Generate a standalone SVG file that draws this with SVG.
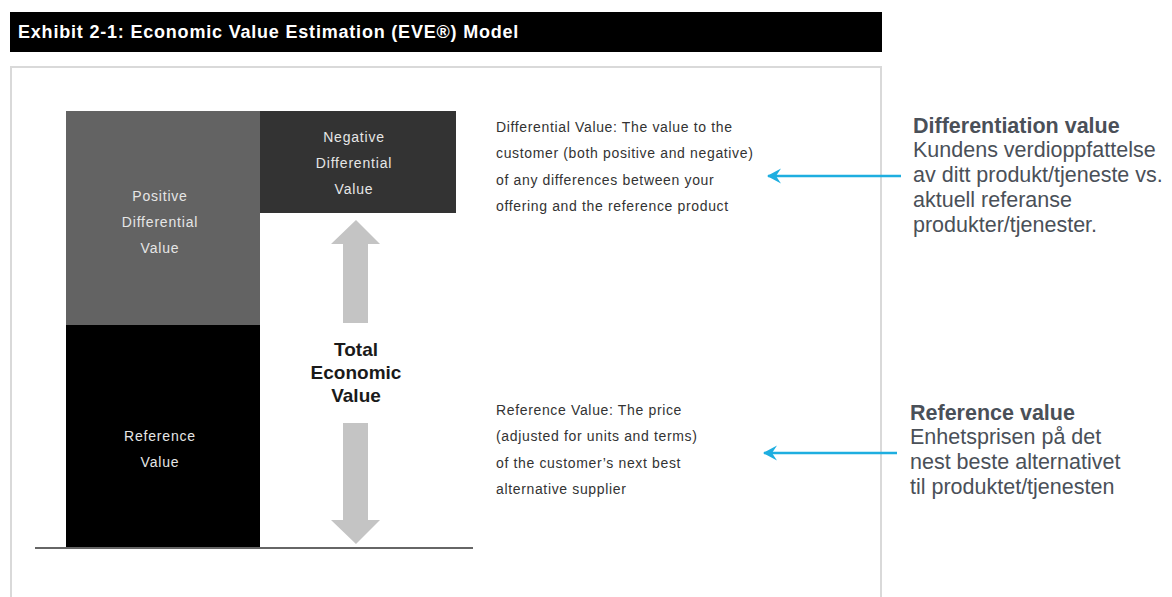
<svg xmlns="http://www.w3.org/2000/svg" width="1172" height="597" viewBox="0 0 1172 597">
  <defs>
    <style>
      .title { font-family: "Liberation Sans", Arial, sans-serif; font-weight: bold; font-size: 18px; letter-spacing: 0.8px; fill: #ffffff; }
      .box-label { font-family: "Liberation Sans", Arial, sans-serif; font-size: 14px; fill: #e6e6e6; text-anchor: middle; letter-spacing: 0.8px; }
      .tev { font-family: "Liberation Sans", Arial, sans-serif; font-weight: bold; font-size: 19px; fill: #1a1a1a; text-anchor: middle; }
      .desc { font-family: "Liberation Sans", Arial, sans-serif; font-size: 14px; fill: #333333; letter-spacing: 0.65px; }
      .note { font-family: "Liberation Sans", Arial, sans-serif; font-size: 21.5px; fill: #4a5058; }
      .note-head { font-weight: bold; }
      .callout { stroke: #1eaee0; stroke-width: 2.5; fill: none; }
      .tev-arrow { fill: #c4c4c4; }
    </style>
    <marker id="blueHead" viewBox="0 0 14 16" refX="13" refY="8" markerWidth="14" markerHeight="16" markerUnits="userSpaceOnUse" orient="auto-start-reverse">
      <path d="M14,8 L0,0.5 L5,8 L0,15.5 Z" fill="#1eaee0"/>
    </marker>
  </defs>

  <!-- header bar -->
  <g id="header">
    <rect x="10" y="12" width="872" height="40" fill="#000000"/>
    <text class="title" x="18" y="38">Exhibit 2-1: Economic Value Estimation (EVE®) Model</text>
  </g>

  <!-- exhibit frame -->
  <rect id="frame" x="11" y="67" width="870" height="560" fill="#ffffff" stroke="#d9d9d9" stroke-width="2"/>

  <g id="positive-differential">
    <rect x="66" y="111" width="194" height="214" fill="#636363"/>
    <text class="box-label" x="160" y="201">Positive</text>
    <text class="box-label" x="160" y="227">Differential</text>
    <text class="box-label" x="160" y="253">Value</text>
  </g>

  <g id="negative-differential">
    <rect x="260" y="111" width="196" height="102" fill="#333333"/>
    <text class="box-label" x="354" y="142">Negative</text>
    <text class="box-label" x="354" y="168">Differential</text>
    <text class="box-label" x="354" y="194">Value</text>
  </g>

  <g id="reference-value">
    <rect x="66" y="325" width="194" height="223" fill="#000000"/>
    <text class="box-label" x="160" y="441">Reference</text>
    <text class="box-label" x="160" y="467">Value</text>
  </g>

  <line id="baseline" x1="35" y1="548" x2="473" y2="548" stroke="#666666" stroke-width="2"/>

  <g id="total-economic-value">
    <path class="tev-arrow" d="M356,220 L380,244 L368,244 L368,323 L343,323 L343,244 L331,244 Z"/>
    <path class="tev-arrow" d="M356,544 L380,520 L368,520 L368,423 L343,423 L343,520 L331,520 Z"/>
    <text class="tev" x="356" y="356">Total</text>
    <text class="tev" x="356" y="379">Economic</text>
    <text class="tev" x="356" y="402">Value</text>
  </g>

  <g id="differential-description">
    <text class="desc" x="496" y="132">Differential Value: The value to the</text>
    <text class="desc" x="496" y="158">customer (both positive and negative)</text>
    <text class="desc" x="496" y="185">of any differences between your</text>
    <text class="desc" x="496" y="211">offering and the reference product</text>
  </g>

  <g id="reference-description">
    <text class="desc" x="496" y="415">Reference Value: The price</text>
    <text class="desc" x="496" y="441">(adjusted for units and terms)</text>
    <text class="desc" x="496" y="468">of the customer’s next best</text>
    <text class="desc" x="496" y="494">alternative supplier</text>
  </g>

  <g id="differentiation-note">
    <text class="note note-head" x="913" y="133">Differentiation value</text>
    <text class="note" x="913" y="157">Kundens verdioppfattelse</text>
    <text class="note" x="913" y="182">av ditt produkt/tjeneste vs.</text>
    <text class="note" x="913" y="207">aktuell referanse</text>
    <text class="note" x="913" y="232">produkter/tjenester.</text>
  </g>

  <g id="reference-note">
    <text class="note note-head" x="910" y="420">Reference value</text>
    <text class="note" x="910" y="444">Enhetsprisen på det</text>
    <text class="note" x="910" y="469">nest beste alternativet</text>
    <text class="note" x="910" y="494">til produktet/tjenesten</text>
  </g>

  <g id="connectors">
    <line class="callout" x1="901" y1="176" x2="768" y2="176" marker-end="url(#blueHead)"/>
    <line class="callout" x1="897" y1="453" x2="764" y2="453" marker-end="url(#blueHead)"/>
  </g>
</svg>
